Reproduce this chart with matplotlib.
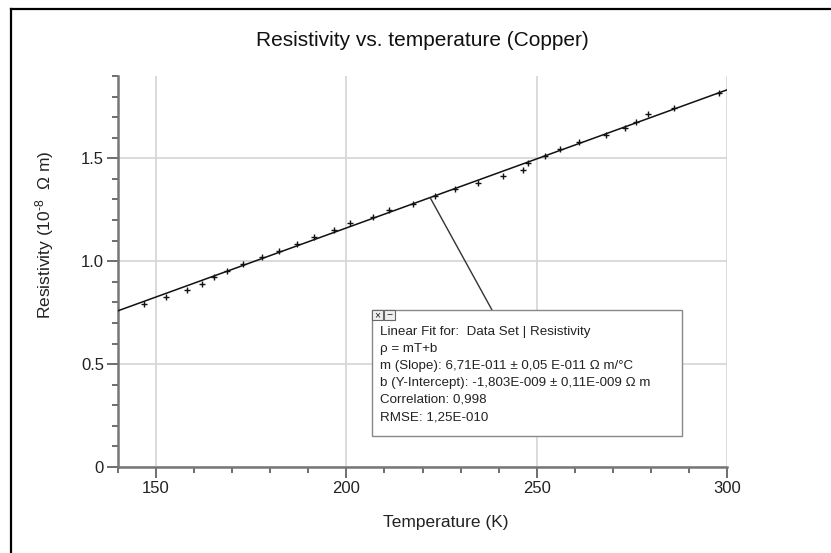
import matplotlib
matplotlib.use("Agg")
import matplotlib.pyplot as plt
from matplotlib.lines import Line2D
from matplotlib.patches import Rectangle
from matplotlib.ticker import MultipleLocator, FuncFormatter
import numpy as np

plt.rcParams['font.family'] = ['Liberation Sans', 'DejaVu Sans']
plt.rcParams['mathtext.fontset'] = 'custom'
plt.rcParams['mathtext.rm'] = 'Liberation Sans'
plt.rcParams['mathtext.it'] = 'Liberation Sans'

# ---- data (temperature in K, resistivity in 1e-8 ohm m) ----
temperature = [146.8, 152.7, 158.1, 162.1, 165.2, 168.7, 172.9, 177.8, 182.2, 186.9,
               191.6, 196.7, 201.0, 206.9, 211.3, 217.5, 223.4, 228.6, 234.6, 241.1,
               246.4, 247.6, 252.1, 256.1, 261.2, 268.1, 273.1, 276.0, 279.3, 286.1, 297.9]
resistivity = [0.794, 0.825, 0.859, 0.890, 0.924, 0.954, 0.988, 1.019, 1.051, 1.085,
               1.119, 1.150, 1.184, 1.217, 1.248, 1.280, 1.316, 1.350, 1.382, 1.413,
               1.445, 1.477, 1.513, 1.544, 1.581, 1.615, 1.647, 1.678, 1.714, 1.746, 1.816]
fit_slope = 0.00671       # 6.71E-011 ohm m / K in units of 1e-8
fit_intercept = -0.1803   # -1.803E-009 ohm m in units of 1e-8
fit_range = [140, 300]
leader_T = 222
x_ticks = [150, 200, 250, 300]
y_ticks = [0, 0.5, 1.0, 1.5]
fit_lines = ["Linear Fit for:  Data Set | Resistivity",
             "\u03c1 = mT+b",
             "m (Slope): 6,71E-011 \u00b1 0,05 E-011 \u03a9 m/\u00b0C",
             "b (Y-Intercept): -1,803E-009 \u00b1 0,11E-009 \u03a9 m",
             "Correlation: 0,998",
             "RMSE: 1,25E-010"]

W, H = 831, 553
fig = plt.figure(figsize=(W / 100, H / 100), dpi=100)
fig.patch.set_facecolor('white')

L, R, B, T = 118, 727, 467, 76
ax = fig.add_axes([L / W, 1 - B / H, (R - L) / W, (B - T) / H])
ax.set_xlim(140, 300)
ax.set_ylim(0, 1.9)

ax.set_xticks(x_ticks)
ax.set_yticks(y_ticks)
ax.xaxis.set_minor_locator(MultipleLocator(10))
ax.yaxis.set_minor_locator(MultipleLocator(0.1))
ax.yaxis.set_major_formatter(FuncFormatter(lambda v, p: "0" if v == 0 else f"{v:.1f}"))
ax.grid(True, which='major', color='#d4d4d4', linewidth=1.2)
ax.set_axisbelow(True)
for s in ['top', 'right']:
    ax.spines[s].set_visible(False)
for s in ['left', 'bottom']:
    ax.spines[s].set_color('#777777')
    ax.spines[s].set_linewidth(1.8)
ax.tick_params(which='major', direction='out', length=8, width=1.2, color='#555555',
               labelsize=12, labelcolor='#222222', pad=2)
ax.tick_params(which='minor', direction='out', length=4.5, width=1.2, color='#555555')

# fit line
fx = np.array(fit_range, dtype=float)
ax.plot(fx, fit_slope * fx + fit_intercept, color='#111111', lw=1.1, zorder=3)
# data
ax.plot(temperature, resistivity, linestyle='none', marker='+', ms=4, mew=1.0,
        color='#111111', zorder=4)

# annotation box
bx0, bx1 = (372 - L) / (R - L), (682 - L) / (R - L)
by1, by0 = (B - 310) / (B - T), (B - 436) / (B - T)
ax.add_patch(Rectangle((bx0, by0), bx1 - bx0, by1 - by0, transform=ax.transAxes,
                       facecolor='white', edgecolor='#888888', lw=1.0, zorder=6))
# leader line
ax.annotate("", xy=(leader_T, fit_slope * leader_T + fit_intercept), xycoords='data',
            xytext=((492 - L) / (R - L), by1), textcoords='axes fraction',
            arrowprops=dict(arrowstyle='-', color='#333333', lw=1.0,
                            shrinkA=0, shrinkB=0), zorder=5)
# small window buttons
bw = 11 / (R - L)
bh = 10 / (B - T)
for i, sym in enumerate(["\u00d7", "\u2212"]):
    ax.add_patch(Rectangle((bx0 + i * (bw + 1 / (R - L)), by1 - bh), bw, bh,
                           transform=ax.transAxes, facecolor='#eeeeee',
                           edgecolor='#666666', lw=0.8, zorder=7))
    ax.text(bx0 + i * (bw + 1 / (R - L)) + bw / 2, by1 - bh / 2, sym, transform=ax.transAxes,
            ha='center', va='center', fontsize=7.5, color='#222222', zorder=8)
tx = (380 - L) / (R - L)
for i, line in enumerate(fit_lines):
    ty = (B - (332 + i * 17.0)) / (B - T)
    ax.text(tx, ty, line, transform=ax.transAxes, fontsize=9.6, color='#222222',
            va='center', ha='left', zorder=8)

# titles and labels
fig.text(422 / W, 1 - 40 / H, "Resistivity vs. temperature (Copper)", ha='center',
         va='center', fontsize=15, color='#111111')
fig.text(446 / W, 1 - 523 / H, "Temperature (K)", ha='center', va='center',
         fontsize=12.5, color='#222222')
fig.text(45 / W, 1 - 235 / H, "Resistivity (10$^{\u2010 8}$  \u03a9 m)", ha='center',
         va='center', rotation=90, fontsize=12.5, color='#222222')

# outer frame (left and top edges)
fig.add_artist(Line2D([11 / W, 11 / W], [0, 1 - 9 / H], transform=fig.transFigure,
                      color='black', lw=1.6))
fig.add_artist(Line2D([11 / W, 1], [1 - 9 / H, 1 - 9 / H], transform=fig.transFigure,
                      color='black', lw=1.6))

fig.savefig("out.png", dpi=100, facecolor='white')
